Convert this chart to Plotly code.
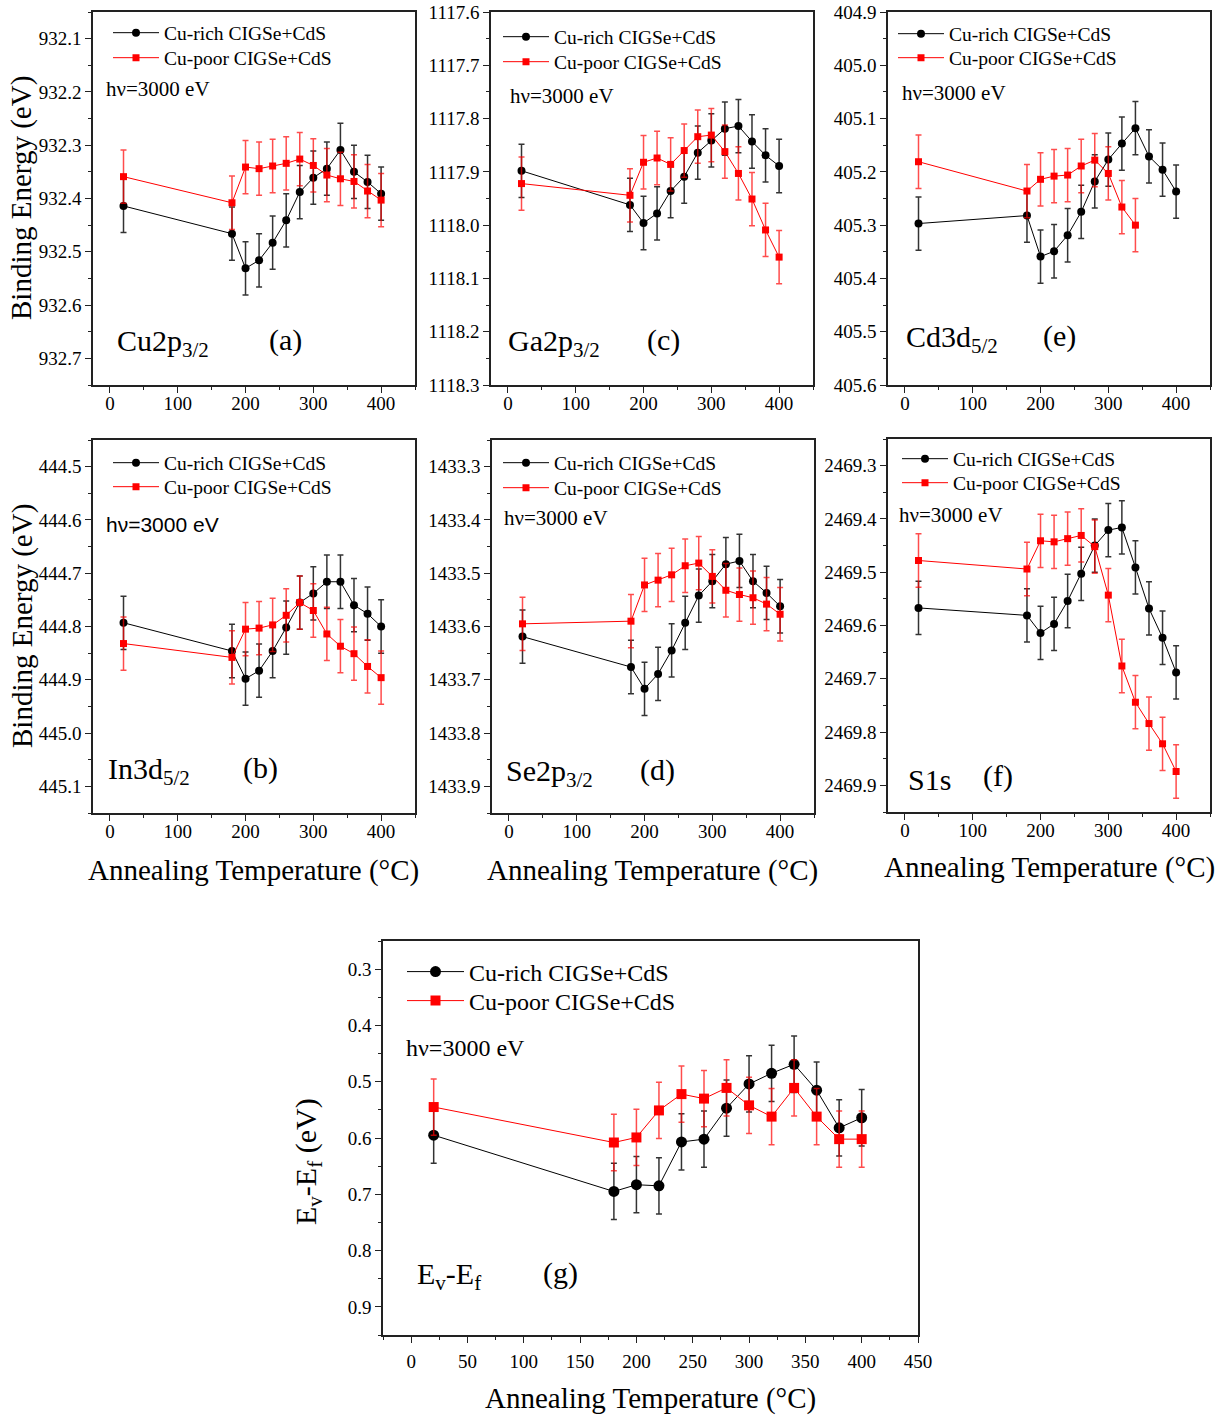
import plotly.graph_objects as go

W, H = 1225, 1416

# ---------------- data ----------------
temps = [20, 180, 200, 220, 240, 260, 280, 300, 320, 340, 360, 380, 400]
temps_cd_poor = [20, 180, 200, 220, 240, 260, 280, 300, 320, 340]
error_bar = 0.05

cu_rich_cu2p = [932.414, 932.466, 932.531, 932.516, 932.483, 932.441, 932.388, 932.361, 932.344, 932.309, 932.350, 932.369, 932.391]
cu_poor_cu2p = [932.359, 932.408, 932.341, 932.344, 932.339, 932.334, 932.326, 932.338, 932.356, 932.363, 932.368, 932.386, 932.403]

cu_rich_ga2p = [1117.898, 1117.962, 1117.996, 1117.978, 1117.936, 1117.909, 1117.864, 1117.841, 1117.819, 1117.814, 1117.843, 1117.869, 1117.889]
cu_poor_ga2p = [1117.922, 1117.944, 1117.882, 1117.874, 1117.886, 1117.860, 1117.834, 1117.831, 1117.862, 1117.903, 1117.951, 1118.009, 1118.060]

cu_rich_cd3d = [405.297, 405.282, 405.359, 405.349, 405.319, 405.275, 405.218, 405.177, 405.147, 405.118, 405.171, 405.196, 405.237]
cu_poor_cd3d = [405.181, 405.236, 405.214, 405.208, 405.206, 405.189, 405.178, 405.203, 405.266, 405.300]

cu_rich_in3d = [444.793, 444.846, 444.898, 444.883, 444.846, 444.802, 444.755, 444.738, 444.716, 444.716, 444.760, 444.776, 444.800]
cu_poor_in3d = [444.832, 444.858, 444.805, 444.803, 444.797, 444.779, 444.755, 444.770, 444.814, 444.837, 444.851, 444.875, 444.896]

cu_rich_se2p = [1433.619, 1433.676, 1433.717, 1433.689, 1433.645, 1433.593, 1433.542, 1433.515, 1433.483, 1433.477, 1433.515, 1433.537, 1433.562]
cu_poor_se2p = [1433.595, 1433.590, 1433.522, 1433.513, 1433.503, 1433.486, 1433.481, 1433.506, 1433.532, 1433.540, 1433.546, 1433.558, 1433.577]

cu_rich_s1s = [2469.567, 2469.581, 2469.614, 2469.597, 2469.554, 2469.503, 2469.450, 2469.421, 2469.416, 2469.491, 2469.568, 2469.623, 2469.688]
cu_poor_s1s = [2469.478, 2469.494, 2469.441, 2469.443, 2469.437, 2469.431, 2469.452, 2469.543, 2469.676, 2469.744, 2469.784, 2469.822, 2469.874]

cu_rich_vbm = [0.595, 0.695, 0.683, 0.685, 0.607, 0.602, 0.547, 0.504, 0.485, 0.469, 0.515, 0.582, 0.564]
cu_poor_vbm = [0.545, 0.608, 0.599, 0.551, 0.522, 0.530, 0.511, 0.542, 0.562, 0.511, 0.562, 0.602, 0.602]

series_names = ["Cu-rich CIGSe+CdS", "Cu-poor CIGSe+CdS"]
x_title = "Annealing Temperature (°C)"
y_title_be = "Binding Energy (eV)"
y_title_vbm = "E<sub>v</sub>-E<sub>f</sub> (eV)"
hv_text = "hν=3000 eV"

SERIF = "Liberation Serif, Times New Roman, serif"
SANS = "Liberation Sans, Arial, sans-serif"

# panel definitions
panels = [
    dict(sfx="", box=(93, 415, 12, 385), yr=(932.75, 932.05), rich=cu_rich_cu2p, poor=cu_poor_cu2p, tpoor=temps,
         elem="Cu2p<sub>3/2</sub>", letter="(a)", elem_pos=(115, 343), letter_x=285, hv=(104, 89), hvfont=SERIF,
         leg=(113, 33, 58), big=False),
    dict(sfx="2", box=(491, 813, 12, 385), yr=(1118.3, 1117.6), rich=cu_rich_ga2p, poor=cu_poor_ga2p, tpoor=temps,
         elem="Ga2p<sub>3/2</sub>", letter="(c)", elem_pos=(506, 343), letter_x=663, hv=(508, 96), hvfont=SERIF,
         leg=(503, 37, 62), big=False),
    dict(sfx="3", box=(888, 1210, 12, 385), yr=(405.6, 404.9), rich=cu_rich_cd3d, poor=cu_poor_cd3d, tpoor=temps_cd_poor,
         elem="Cd3d<sub>5/2</sub>", letter="(e)", elem_pos=(904, 339), letter_x=1059, hv=(900, 93), hvfont=SERIF,
         leg=(898, 34, 58), big=False),
    dict(sfx="4", box=(93, 415, 440, 813), yr=(445.15, 444.45), rich=cu_rich_in3d, poor=cu_poor_in3d, tpoor=temps,
         elem="In3d<sub>5/2</sub>", letter="(b)", elem_pos=(106, 771), letter_x=260, hv=(104, 524), hvfont=SANS,
         leg=(113, 463, 487), big=False),
    dict(sfx="5", box=(492, 814, 440, 813), yr=(1433.95, 1433.25), rich=cu_rich_se2p, poor=cu_poor_se2p, tpoor=temps,
         elem="Se2p<sub>3/2</sub>", letter="(d)", elem_pos=(504, 773), letter_x=657, hv=(502, 518), hvfont=SERIF,
         leg=(503, 463, 488), big=False),
    dict(sfx="6", box=(888, 1210, 439, 812), yr=(2469.95, 2469.25), rich=cu_rich_s1s, poor=cu_poor_s1s, tpoor=temps,
         elem="S1s", letter="(f)", elem_pos=(906, 779), letter_x=998, hv=(897, 515), hvfont=SERIF,
         leg=(902, 459, 483), big=False),
    dict(sfx="7", box=(383, 918, 941, 1335), yr=(0.95, 0.25), rich=cu_rich_vbm, poor=cu_poor_vbm, tpoor=temps,
         elem="E<sub>v</sub>-E<sub>f</sub>", letter="(g)", elem_pos=(415, 1276), letter_x=560, hv=(404, 1048), hvfont=SERIF,
         leg=(407, 972, 1001), big=True),
]


def px(x):
    return x / W


def py(y):
    return 1 - y / H


fig = go.Figure()
layout = dict(
    width=W, height=H, margin=dict(l=0, r=0, t=0, b=0, autoexpand=False),
    paper_bgcolor="white", plot_bgcolor="white",
    font=dict(family=SERIF, color="black", size=19),
    showlegend=True,
)
annotations = []
leg_count = 0

for p in panels:
    sfx = p["sfx"]
    x0, x1, y0, y1 = p["box"]
    big = p["big"]
    xa = "x" + sfx
    ya = "y" + sfx
    msize_c = 11 if big else 8
    msize_s = 10 if big else 7
    lfs = 24 if big else 19.5
    lx, ly1, ly2 = p["leg"]
    specs = [
        (temps, p["rich"], series_names[0], "black", "circle", msize_c, "rgba(0,0,0,0.8)", ly1),
        (p["tpoor"], p["poor"], series_names[1], "red", "square", msize_s, "rgba(255,0,0,0.7)", ly2),
    ]
    for xs, ys, name, col, sym, ms, ecol, ly in specs:
        leg_count += 1
        leg_id = "legend" if leg_count == 1 else "legend%d" % leg_count
        fig.add_trace(go.Scatter(
            x=xs, y=ys, mode="lines+markers", name=name,
            xaxis=xa, yaxis=ya, legend=leg_id,
            line=dict(color=col, width=1),
            marker=dict(symbol=sym, size=ms, color=col),
            error_y=dict(type="constant", value=error_bar, color=ecol, thickness=1.5, width=3),
        ))
        layout[leg_id] = dict(
            x=px(lx - 5), y=py(ly), xanchor="left", yanchor="middle",
            bgcolor="rgba(0,0,0,0)",
            font=dict(family=SERIF, size=lfs, color="black"),
            itemwidth=57 if big else 46,
        )

    common = dict(showline=True, mirror=True, linecolor="#222", linewidth=1.5,
                  ticks="outside", ticklen=6, tickwidth=1.2, tickcolor="#222",
                  showgrid=False, zeroline=False, automargin=False,
                  tickfont=dict(family=SERIF, size=19, color="black"))
    layout["xaxis" + sfx] = dict(
        domain=[px(x0), px(x1)], anchor=ya, range=[-25, 450],
        tick0=0, dtick=50 if big else 100,
        ticklabelstandoff=2 if big else -6,
        minor=dict(dtick=25 if big else 50, ticks="outside", ticklen=3, tickcolor="#222"),
        **common)
    layout["yaxis" + sfx] = dict(
        domain=[py(y1), py(y0)], anchor=xa, range=list(p["yr"]),
        dtick=0.1, tickformat=".1f",
        minor=dict(dtick=0.05, ticks="outside", ticklen=3, tickcolor="#222"),
        **common)

    ex, ey = p["elem_pos"]
    annotations.append(dict(text=p["elem"], x=px(ex), y=py(ey), xref="paper", yref="paper",
                            xanchor="left", yanchor="middle", showarrow=False,
                            font=dict(family=SERIF, size=30, color="black")))
    annotations.append(dict(text=p["letter"], x=px(p["letter_x"]), y=py(ey - 3), xref="paper", yref="paper",
                            xanchor="center", yanchor="middle", showarrow=False,
                            font=dict(family=SERIF, size=30, color="black")))
    hx, hy = p["hv"]
    annotations.append(dict(text=hv_text, x=px(hx), y=py(hy), xref="paper", yref="paper",
                            xanchor="left", yanchor="middle", showarrow=False,
                            font=dict(family=p["hvfont"], size=24 if big else 21, color="black")))

# axis titles
for cx, cy in [(254, 870), (653, 870), (1049, 868), (650, 1398)]:
    annotations.append(dict(text=x_title, x=px(cx), y=py(cy), xref="paper", yref="paper",
                            xanchor="center", yanchor="middle", showarrow=False,
                            font=dict(family=SERIF, size=29, color="black")))
for cx, cy in [(22, 198), (22, 626)]:
    annotations.append(dict(text=y_title_be, x=px(cx), y=py(cy), xref="paper", yref="paper",
                            xanchor="center", yanchor="middle", showarrow=False, textangle=-90,
                            font=dict(family=SERIF, size=29, color="black")))
annotations.append(dict(text=y_title_vbm, x=px(308), y=py(1162), xref="paper", yref="paper",
                        xanchor="center", yanchor="middle", showarrow=False, textangle=-90,
                        font=dict(family=SERIF, size=30, color="black")))

layout["annotations"] = annotations
fig.update_layout(**layout)
fig.write_html("out.html")
